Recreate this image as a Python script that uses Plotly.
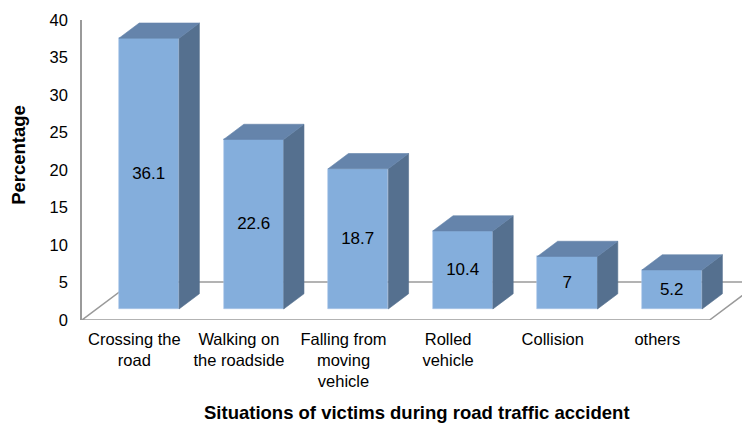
import plotly.graph_objects as go

categories = ["Crossing the<br>road", "Walking on<br>the roadside", "Falling from<br>moving<br>vehicle",
              "Rolled<br>vehicle", "Collision", "others"]
values = [36.1, 22.6, 18.7, 10.4, 7, 5.2]
y_ticks = [0, 5, 10, 15, 20, 25, 30, 35, 40]

FONT = "Liberation Sans, Arial, Helvetica, sans-serif"
FRONT = "#84AEDC"
TOP = "#6584AB"
SIDE = "#55708F"
EDGE = "#9a9a9a"

# 3D projection constants (in axis units)
depth_x, depth_y = 0.485, 5.07       # full floor depth vector
f0, f1 = 0.29, 0.69                  # bar depth fractions (front, back)
bar_w = 0.575

n = len(values)
idx = list(range(n))
off_x, off_y = f0 * depth_x, f0 * depth_y
bdx, bdy = (f1 - f0) * depth_x, (f1 - f0) * depth_y

fig = go.Figure()

# side & top faces
side_x, side_y, top_x, top_y = [], [], [], []
for i, v in zip(idx, values):
    xl = i + off_x - bar_w / 2
    xr = i + off_x + bar_w / 2
    base = off_y
    top = off_y + v
    side_x += [xr, xr, xr + bdx, xr + bdx, xr, None]
    side_y += [base, top, top + bdy, base + bdy, base, None]
    top_x += [xl, xr, xr + bdx, xl + bdx, xl, None]
    top_y += [top, top, top + bdy, top + bdy, top, None]

fig.add_trace(go.Bar(
    x=[i + off_x for i in idx], y=values, base=off_y, width=bar_w,
    marker=dict(color=FRONT, line=dict(color="#a9c6e8", width=0.6)),
    text=values, texttemplate="%{y}", textposition="inside", insidetextanchor="middle",
    textangle=0, constraintext="none",
    textfont=dict(family=FONT, size=17, color="black"), hoverinfo="skip", showlegend=False))
fig.add_trace(go.Scatter(x=side_x, y=side_y, mode="lines", fill="toself", fillcolor=SIDE,
                         line=dict(color=SIDE, width=0.6), hoverinfo="skip", showlegend=False))
fig.add_trace(go.Scatter(x=top_x, y=top_y, mode="lines", fill="toself", fillcolor=TOP,
                         line=dict(color=TOP, width=0.6), hoverinfo="skip", showlegend=False))

# floor outline (below everything)
x0, x1 = -0.5, n - 0.5
floor_path = (f"M {x0},0 L {x1},0 L {x1 + depth_x},{depth_y} "
              f"L {x0 + depth_x},{depth_y} Z")
fig.add_shape(type="path", path=floor_path, xref="x", yref="y", layer="below",
              line=dict(color=EDGE, width=1.5), fillcolor="rgba(0,0,0,0)")

# page body has an 8px default margin, so the figure is 8px smaller
fig.update_layout(
    width=742, height=415,
    margin=dict(l=74, r=0, t=12, b=103, autoexpand=False),
    paper_bgcolor="white", plot_bgcolor="white",
    bargap=0,
    font=dict(family=FONT, size=16.5, color="black"),
    xaxis=dict(range=[-0.5, 5.886], tickvals=idx, ticktext=categories,
               showgrid=False, zeroline=False, showline=False, ticks="",
               tickfont=dict(size=16.5), ticklabelstandoff=7, automargin=False),
    yaxis=dict(range=[0, 40], tickvals=y_ticks, showgrid=False, zeroline=False,
               showline=True, linecolor=EDGE, linewidth=1.5, ticks="",
               tickfont=dict(size=16.5), ticklabelstandoff=9, automargin=False),
    annotations=[
        dict(text="<b>Percentage</b>", textangle=-90, xref="paper", yref="paper",
             x=-0.096, y=0.55, xanchor="center", yanchor="middle",
             showarrow=False, font=dict(size=18.5)),
        dict(text="<b>Situations of victims during road traffic accident</b>",
             xref="paper", yref="paper", x=0.5015, y=-0.307,
             xanchor="center", yanchor="middle", showarrow=False, font=dict(size=18.5)),
    ],
)

fig.write_html("out.html")
